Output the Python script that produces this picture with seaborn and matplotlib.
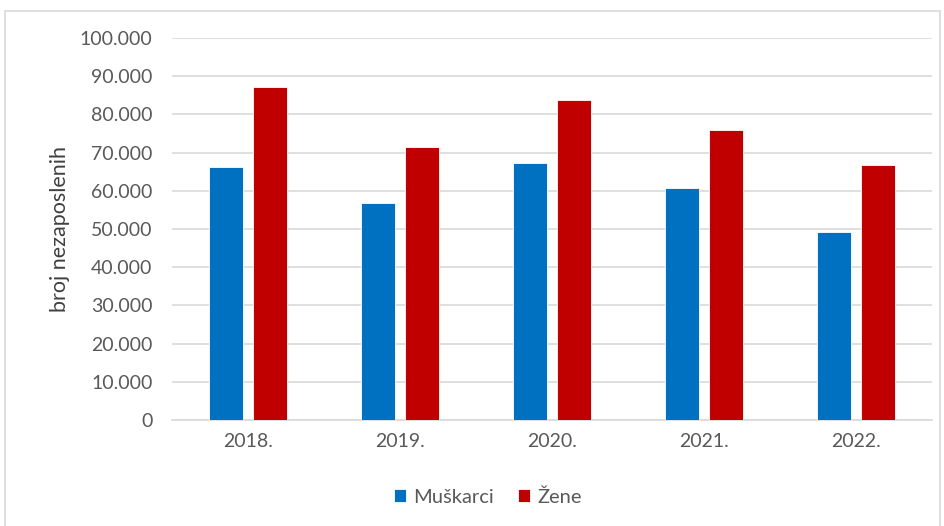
import matplotlib
matplotlib.use("Agg")
import matplotlib.pyplot as plt
from matplotlib.patches import Rectangle
from matplotlib.ticker import FuncFormatter
import seaborn as sb
import pandas as pd

# data
years = ["2018.", "2019.", "2020.", "2021.", "2022."]
muskarci = [66300, 56900, 67400, 60800, 49200]
zene = [87100, 71400, 83800, 75900, 66700]
series_names = ["Muškarci", "Žene"]
colors = ["#0070C0", "#C00000"]

df = pd.DataFrame({
    "godina": years * 2,
    "broj": muskarci + zene,
    "spol": [series_names[0]] * len(years) + [series_names[1]] * len(years),
})

sb.set_style("white")
plt.rcParams["font.family"] = ["Lato", "DejaVu Sans"]
text_col = "#595959"
grid_col = "#D9D9D9"

fig = plt.figure(figsize=(9.44, 5.26), dpi=100)
ax = fig.add_axes([0.182, 0.2015, 0.805, 0.7263])

sb.barplot(data=df, x="godina", y="broj", hue="spol", palette=colors,
           width=0.58, gap=0.23, edgecolor="white", linewidth=0.6,
           saturation=1, ax=ax, zorder=3)

ax.set_ylim(0, 100000)
ax.set_yticks(range(0, 100001, 10000))
ax.yaxis.set_major_formatter(FuncFormatter(lambda v, p: f"{int(v):,}".replace(",", ".")))
ax.grid(axis="y", color=grid_col, linewidth=1.2, zorder=0)
ax.set_axisbelow(True)
for s in ["top", "right", "left"]:
    ax.spines[s].set_visible(False)
ax.spines["bottom"].set_color(grid_col)
ax.spines["bottom"].set_linewidth(1.2)
ax.tick_params(axis="y", length=0, pad=14, labelsize=14, labelcolor=text_col)
ax.tick_params(axis="x", length=0, pad=9, labelsize=14, labelcolor=text_col)
ax.set_xlabel("")
ax.set_ylabel("broj nezaposlenih", fontsize=15.5, color="#404040", labelpad=7)

ax.legend(loc="center", bbox_to_anchor=(0.517, 0.055), bbox_transform=fig.transFigure,
          ncol=2, frameon=False, fontsize=14.5, labelcolor=text_col,
          handlelength=0.6, handleheight=0.6, handletextpad=0.35, columnspacing=1.2)

# outer chart border
fig.patches.append(Rectangle((5 / 944, -0.01), 935 / 944, 1 - 11 / 526 + 0.01,
                             transform=fig.transFigure, fill=False,
                             edgecolor="#D9D9D9", linewidth=1.2))

fig.savefig("out.png", dpi=100)
